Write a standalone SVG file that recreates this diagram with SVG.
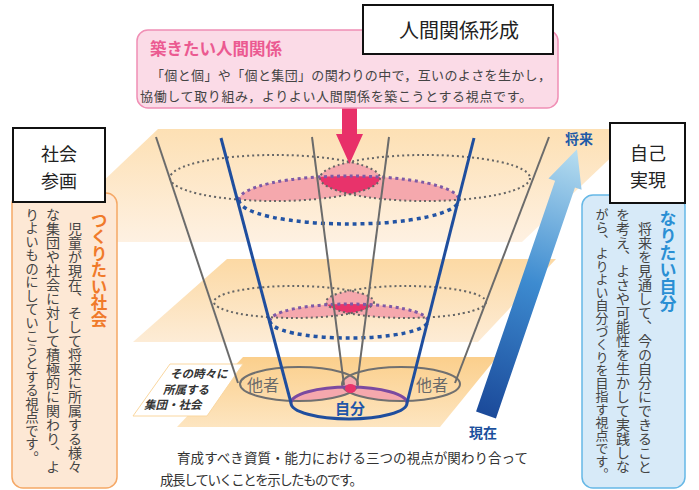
<svg xmlns="http://www.w3.org/2000/svg" width="699" height="490" viewBox="0 0 699 490">
<style>
text{font-family:"Noto Sans CJK JP","Noto Sans",sans-serif;}
.vt{writing-mode:vertical-rl;}
.body{fill:#444;font-size:14px;}
.dotg{fill:none;stroke:#666;stroke-width:2;stroke-dasharray:2 3;}
.dotp{fill:none;stroke:#7d5aa6;stroke-width:3;stroke-dasharray:3 3.5;}
.dotb{fill:none;stroke:#2354a4;stroke-width:3.5;stroke-dasharray:4 4;}
.gline{stroke:#6b6b6b;stroke-width:2;fill:none;}
.bline{stroke:#1f4e9e;stroke-width:3;fill:none;}
.pink{fill:#f5a8ad;}
.dpink{fill:#e8336b;}
.frame{fill:#fff;stroke:#111;stroke-width:2;}
.ftxt{font-size:18px;fill:#222;text-anchor:middle;}
</style>
<defs>
<linearGradient id="gTop" x1="0" y1="0" x2="0" y2="1"><stop offset="0" stop-color="#fde0b4"/><stop offset="1" stop-color="#fef1e2"/></linearGradient>
<linearGradient id="gMid" x1="0" y1="0" x2="0" y2="1"><stop offset="0" stop-color="#fcd9a4"/><stop offset="1" stop-color="#fdecd6"/></linearGradient>
<linearGradient id="gBot" x1="0" y1="0" x2="0" y2="1"><stop offset="0" stop-color="#fbcf8c"/><stop offset="1" stop-color="#fde5c0"/></linearGradient>
<linearGradient id="gArrow" gradientUnits="userSpaceOnUse" x1="486" y1="415" x2="486" y2="134"><stop offset="0" stop-color="#1b4a9a"/><stop offset="0.5" stop-color="#3d8bd0"/><stop offset="1" stop-color="#b8def0"/></linearGradient>
<clipPath id="cS1"><ellipse cx="349" cy="200" rx="110" ry="24"/></clipPath>
<clipPath id="cL1"><ellipse cx="275" cy="178" rx="105" ry="23"/></clipPath>
<clipPath id="cS2"><ellipse cx="349" cy="321" rx="79" ry="17"/></clipPath>
<clipPath id="cL2"><ellipse cx="294" cy="302" rx="80" ry="16"/></clipPath>
<clipPath id="cS3"><ellipse cx="349" cy="403" rx="58" ry="16"/></clipPath>
<clipPath id="cL3"><ellipse cx="299" cy="384" rx="59" ry="17"/></clipPath>
</defs>

<g id="planes">
<polygon points="158,129 641,129 522,242 39,242" fill="url(#gTop)"/>
<polygon points="227,259 556,259 478,342 133,342" fill="url(#gMid)"/>
<polygon points="243,357 497,357 440,427 177,427" fill="url(#gBot)"/>
</g>

<g id="group-label">
<polygon points="170,364 243,364 207,416 133,416" fill="#fff" stroke="#fad7a0" stroke-width="1"/>
<text x="170" y="378" font-size="11.5" font-weight="bold" font-style="italic" fill="#333">その時々に</text>
<text x="163" y="394" font-size="11.5" font-weight="bold" font-style="italic" fill="#333">所属する</text>
<text x="144" y="409" font-size="11.5" font-weight="bold" font-style="italic" fill="#333">集団・社会</text>
</g>

<g id="level-top">
<g clip-path="url(#cS1)"><ellipse class="pink" cx="275" cy="178" rx="105" ry="23"/><ellipse class="pink" cx="425" cy="178" rx="105" ry="23"/></g>
<g clip-path="url(#cL1)"><ellipse class="pink" cx="425" cy="178" rx="105" ry="23"/></g>
<g clip-path="url(#cS1)"><g clip-path="url(#cL1)"><ellipse class="dpink" cx="425" cy="178" rx="105" ry="23"/></g></g>
<ellipse class="dotg" cx="275" cy="178" rx="105" ry="23"/>
<ellipse class="dotg" cx="425" cy="178" rx="105" ry="23"/>
<path class="dotp" d="M239,200 A110,24 0 0 1 459,200"/>
<path class="dotb" d="M239,200 A110,24 0 0 0 459,200"/>
</g>

<g id="level-mid">
<g clip-path="url(#cS2)"><ellipse class="pink" cx="294" cy="302" rx="80" ry="16"/><ellipse class="pink" cx="406" cy="302" rx="80" ry="16"/></g>
<g clip-path="url(#cL2)"><ellipse class="pink" cx="406" cy="302" rx="80" ry="16"/></g>
<g clip-path="url(#cS2)"><g clip-path="url(#cL2)"><ellipse class="dpink" cx="406" cy="302" rx="80" ry="16"/></g></g>
<ellipse class="dotg" cx="294" cy="302" rx="80" ry="16"/>
<ellipse class="dotg" cx="406" cy="302" rx="80" ry="16"/>
<path class="dotp" d="M270,321 A79,17 0 0 1 428,321"/>
<path class="dotb" d="M270,321 A79,17 0 0 0 428,321"/>
</g>

<g id="level-bottom">
<g clip-path="url(#cS3)"><ellipse class="pink" cx="299" cy="384" rx="59" ry="17"/><ellipse class="pink" cx="401" cy="384" rx="59" ry="17"/></g>
<g clip-path="url(#cL3)"><ellipse class="pink" cx="401" cy="384" rx="59" ry="17"/></g>
<ellipse cx="299" cy="384" rx="59" ry="17" fill="none" stroke="#707070" stroke-width="2"/>
<ellipse cx="401" cy="384" rx="59" ry="17" fill="none" stroke="#707070" stroke-width="2"/>
<path d="M291,403 A58,16 0 0 1 407,403" fill="none" stroke="#7b4aa0" stroke-width="3"/>
<path d="M291,403 A58,16 0 0 0 407,403" fill="none" stroke="#1f4e9e" stroke-width="3"/>
<ellipse class="dpink" cx="350.5" cy="388.5" rx="5.5" ry="4.5"/>
</g>

<g id="connectors">
<line class="gline" x1="156" y1="137" x2="238" y2="383"/>
<line class="gline" x1="312" y1="137" x2="344" y2="385"/>
<line class="gline" x1="389" y1="137" x2="357" y2="385"/>
<line class="gline" x1="549" y1="137" x2="455" y2="383"/>
<line class="bline" x1="221" y1="138" x2="291" y2="403"/>
<line class="bline" x1="474" y1="138" x2="407" y2="403"/>
<polygon id="pink-arrow" points="342,108 357,108 357,134 363,134 349.5,164 336,134 342,134" fill="#e83069"/>
<polygon id="time-arrow" points="475.5,415 496.5,415 496.5,171 503.5,171 486,134 468.5,171 475.5,171" fill="url(#gArrow)" transform="rotate(18.9 486 415)"/>
</g>

<g id="node-tasha-left"><text x="263" y="391" font-size="16" fill="#6a6a6a" text-anchor="middle">他者</text></g>
<g id="node-tasha-right"><text x="432" y="391" font-size="16" fill="#6a6a6a" text-anchor="middle">他者</text></g>
<g id="node-jibun"><text x="350" y="414" font-size="15" font-weight="bold" fill="#1f56a8" text-anchor="middle">自分</text></g>
<g id="label-future"><text x="579" y="144" font-size="14" font-weight="bold" fill="#1e5aa8" text-anchor="middle">将来</text></g>
<g id="label-now"><text x="483" y="438" font-size="14" font-weight="bold" fill="#1b4f9c" text-anchor="middle">現在</text></g>

<g id="node-relations">
<rect x="137" y="30" width="421" height="78" rx="11" fill="#fbdbe7" stroke="#f08fb5" stroke-width="1.5"/>
<text x="150" y="55" font-size="16.5" font-weight="bold" fill="#eb5a91">築きたい人間関係</text>
<text x="151" y="80" font-size="13" fill="#444" textLength="400" lengthAdjust="spacing">「個と個」や「個と集団」の関わりの中で，互いのよさを生かし，</text>
<text x="140" y="101" font-size="13" fill="#444" textLength="392" lengthAdjust="spacing">協働して取り組み，よりよい人間関係を築こうとする視点です。</text>
</g>
<g id="node-ningen-title">
<rect class="frame" x="363" y="5" width="190" height="49"/>
<text x="459" y="38" font-size="20" fill="#222" text-anchor="middle">人間関係形成</text>
</g>

<g id="node-society">
<rect x="12" y="193" width="105" height="295" rx="11" fill="#fde8d5" stroke="#f5a866" stroke-width="1.5"/>
<text class="vt" x="99" y="212" font-size="16.5" font-weight="bold" fill="#f07a2a">つくりたい社会</text>
<text class="vt body" x="75" y="222">児童が現在、そして将来に所属する様々</text>
<text class="vt body" x="53" y="208">な集団や社会に対して積極的に関わり、よ</text>
<text class="vt body" x="32" y="208" style="font-size:13.5px">りよいものにしていこうとする視点です。</text>
</g>
<g id="node-society-title">
<rect class="frame" x="13" y="128" width="92" height="74"/>
<text class="ftxt" x="59" y="161">社会</text>
<text class="ftxt" x="59" y="188">参画</text>
</g>

<g id="node-self">
<rect x="582" y="195" width="103" height="293" rx="11" fill="#d7eaf8" stroke="#66b8e6" stroke-width="1.5"/>
<text class="vt" x="668" y="210" font-size="17" font-weight="bold" fill="#2a8fd4">なりたい自分</text>
<text class="vt body" x="645" y="222">将来を見通して、今の自分にできること</text>
<text class="vt body" x="623" y="208">を考え、よさや可能性を生かして実践しな</text>
<text class="vt body" x="602" y="208" style="font-size:13px">がら、よりよい自分づくりを目指す視点です。</text>
</g>
<g id="node-self-title">
<rect class="frame" x="610" y="123" width="75" height="80"/>
<text class="ftxt" x="648" y="160">自己</text>
<text class="ftxt" x="648" y="187">実現</text>
</g>

<g id="caption">
<text x="177" y="463" font-size="13.5" fill="#333" textLength="351" lengthAdjust="spacing">育成すべき資質・能力における三つの視点が関わり合って</text>
<text x="160" y="485" font-size="13.5" fill="#333" textLength="203" lengthAdjust="spacing">成長していくことを示したものです。</text>
</g>
</svg>
